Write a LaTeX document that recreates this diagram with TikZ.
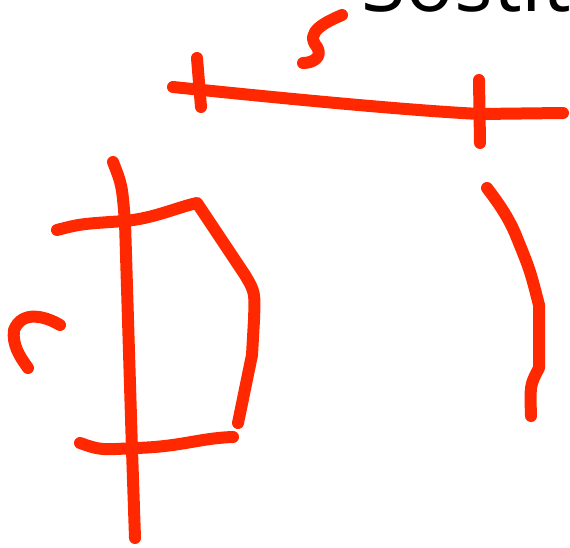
\documentclass[tikz,border=0pt]{standalone}
\usepackage{fontspec}
\newfontfamily\headfont{Open Sans}
\usetikzlibrary{calc}

\begin{document}
\begin{tikzpicture}[
    x=1pt, y=-1pt,
    ink/.style={draw=inkred, line width=12pt, line cap=round,
                line join=round},
    head/.style={anchor=base west, inner sep=0pt,
                 font=\headfont\fontsize{81}{81}\selectfont}
  ]
  \definecolor{inkred}{RGB}{255,40,0}
  \useasboundingbox (0,0) rectangle (570,548);

  % heading, cut off by the page edge
  \node[head] (title) at (361,12) {Sostit};

  % small hook under the heading
  \draw[ink] (342,15) .. controls (326,22) and (304,32) .. (317,47)
    .. controls (323,57) and (313,63) .. (303,63);

  % top line with two ticks
  \draw[ink] (173,87) .. controls (260,96) and (400,110) .. (480,114)
    -- (563,113);
  \draw[ink] (197,58) -- (201,107);
  \draw[ink] (479,80) -- (480,143);

  % right arc
  \draw[ink] (487,188) .. controls (500,205) and (510,220) .. (517,238)
    .. controls (530,270) .. (539,305) -- (539,368)
    .. controls (530,385) .. (531,416);

  % left figure
  \draw[ink] (113,162) .. controls (122,185) .. (125,222) -- (132,450)
    -- (135,538);
  \draw[ink] (57,230) .. controls (80,224) .. (125,221)
    .. controls (155,218) and (175,208) .. (197,203) -- (245,275)
    .. controls (255,292) .. (254,320) -- (252,355) -- (238,423);
  \draw[ink] (80,443) .. controls (100,450) .. (135,448)
    .. controls (180,447) and (200,438) .. (233,437);

  % small hook on the left
  \draw[ink] (60,325) .. controls (45,316) and (22,310) .. (14,330)
    .. controls (12,345) and (20,357) .. (28,368);
\end{tikzpicture}
\end{document}
